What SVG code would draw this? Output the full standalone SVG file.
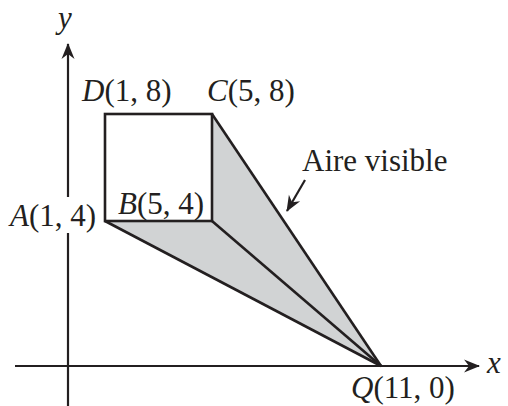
<svg xmlns="http://www.w3.org/2000/svg" width="508" height="406" viewBox="0 0 508 406">
<style>
text{font-family:"Liberation Serif","Times New Roman",serif;font-size:31px;fill:#231f20}
.i{font-style:italic}
.ax{stroke:#231f20;stroke-width:2.2;fill:none}
.ln{stroke:#231f20;stroke-width:2.6;fill:none;stroke-linejoin:miter}
</style>
<defs>
<marker id="ah" viewBox="-16 -8 18 16" refX="0" refY="0" markerWidth="18" markerHeight="16" markerUnits="userSpaceOnUse" orient="auto">
<path d="M1,0 L-15,-6.5 L-10,0 L-15,6.5 Z" fill="#231f20"/>
</marker>
</defs>
<rect width="508" height="406" fill="#fff"/>
<g id="axes">
<line class="ax" x1="68" y1="406" x2="68" y2="233"/>
<line class="ax" x1="68" y1="197" x2="68" y2="44" marker-end="url(#ah)"/>
<line class="ax" x1="15" y1="366" x2="479" y2="366" marker-end="url(#ah)"/>
<text x="58" y="28" class="i">y</text>
<text x="487" y="373" class="i">x</text>
</g>
<g id="shade">
<polygon points="105,221 212,221 212,114 381,366" fill="#d1d3d4"/>
</g>
<g id="square">
<rect class="ln" x="105" y="114" width="107" height="107" fill="#fff"/>
</g>
<g id="connectors">
<line class="ln" x1="105" y1="221" x2="381" y2="366"/>
<line class="ln" x1="212" y1="221" x2="381" y2="366"/>
<line class="ln" x1="212" y1="114" x2="381" y2="366"/>
<line class="ax" x1="305" y1="180" x2="287" y2="211" marker-end="url(#ah)"/>
</g>
<g id="labelD"><text x="82" y="101"><tspan class="i">D</tspan>(1, 8)</text></g>
<g id="labelC"><text x="207" y="101"><tspan class="i">C</tspan>(5, 8)</text></g>
<g id="labelA"><text x="10" y="226"><tspan class="i">A</tspan>(1, 4)</text></g>
<g id="labelB"><text x="118" y="214"><tspan class="i">B</tspan>(5, 4)</text></g>
<g id="labelQ"><text x="351" y="398"><tspan class="i">Q</tspan>(11, 0)</text></g>
<g id="labelAire"><text x="302" y="171">Aire visible</text></g>
</svg>
